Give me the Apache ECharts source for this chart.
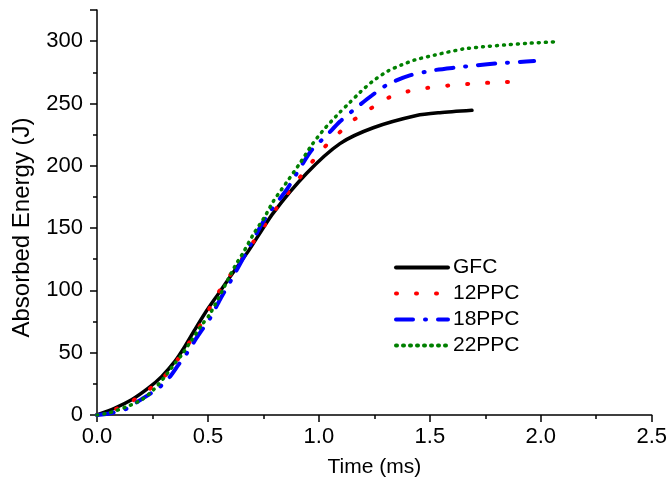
<!DOCTYPE html>
<html>
<head>
<meta charset="utf-8">
<script src="https://cdn.jsdelivr.net/npm/echarts@6/dist/echarts.min.js"></script>
<style>html,body{margin:0;padding:0;background:#fff;}#c{width:670px;height:483px;}</style>
</head>
<body>
<div id="c"></div>
<script>
const seriesNames = ['GFC', '12PPC', '18PPC', '22PPC'];
const gfc = [[0,0],[0.081,5.6],[0.156,12.2],[0.231,21.5],[0.291,30.8],[0.351,43],[0.396,55],[0.441,68.5],[0.486,81.5],[0.546,97],[0.6,111],[0.682,131.5],[0.794,162],[0.945,194],[1.095,217.8],[1.245,230.5],[1.44,240.3],[1.545,242.6],[1.69,244.5]];
const ppc12 = [[0,0],[0.089,5],[0.156,10.9],[0.231,20.1],[0.299,30],[0.351,41.4],[0.404,55],[0.449,67],[0.501,83.5],[0.539,96],[0.599,112],[0.659,127],[0.809,166],[0.907,189],[0.964,201.9],[1.019,213.8],[1.087,225.7],[1.147,235.5],[1.227,245.2],[1.312,254.5],[1.402,259.7],[1.492,262.6],[1.586,264.4],[1.68,265.7],[1.775,266.7],[1.9,267.6]];
const ppc18 = [[0,0],[0.066,1.6],[0.141,5.6],[0.186,11],[0.276,21.5],[0.329,30.8],[0.366,40],[0.404,49.3],[0.456,63.9],[0.509,77.5],[0.554,92.5],[0.607,109],[0.667,128.5],[0.764,159.4],[0.854,180.6],[0.914,197.9],[0.967,212.5],[1.035,224.4],[1.095,235.5],[1.162,245.6],[1.237,256.2],[1.312,265.5],[1.41,272.5],[1.523,276.8],[1.62,278.9],[1.71,280.6],[1.808,282.2],[1.905,283.3],[1.97,284]];
const ppc22 = [[0,0],[0.05,1.5],[0.126,6.1],[0.201,12.2],[0.254,20.1],[0.306,30.8],[0.351,41.4],[0.381,48],[0.426,59.9],[0.471,71.9],[0.509,81],[0.577,104],[0.622,119.6],[0.659,130.3],[0.704,144.8],[0.757,159.4],[0.794,171.3],[0.862,188.6],[0.914,201.9],[0.967,216.4],[1.019,228.4],[1.095,243],[1.14,250.9],[1.185,258.9],[1.245,268.2],[1.312,276.1],[1.372,280.9],[1.432,284.9],[1.523,288.9],[1.65,293.7],[1.74,295.5],[1.838,296.9],[1.935,298.2],[2.07,299.5]];

const chart = echarts.init(document.getElementById('c'));
const font = 'Liberation Sans, Arial, sans-serif';
function mk(name, data, color, type, width) {
  return {
    name: name, type: 'line', data: data, smooth: 0.25, showSymbol: false, symbol: 'none',
    lineStyle: { color: color, width: width, type: type, cap: 'round' },
    itemStyle: { color: color }
  };
}
chart.setOption({
  animation: false,
  backgroundColor: '#fff',
  grid: { left: 97, right: 18, top: 10, bottom: 66, containLabel: false },
  legend: {
    left: 389, top: 252, orient: 'vertical', itemWidth: 52, itemHeight: 14, itemGap: 5,
    itemStyle: { opacity: 0 },
    lineStyle: { width: 4, cap: 'round' },
    textStyle: { fontFamily: font, fontSize: 21, color: '#000' },
    data: seriesNames
  },
  xAxis: {
    type: 'value', min: 0, max: 2.5, interval: 0.5,
    name: 'Time (ms)', nameLocation: 'middle', nameGap: 42,
    nameTextStyle: { fontFamily: font, fontSize: 21, color: '#000' },
    axisLine: { lineStyle: { color: '#000', width: 1.5 } },
    axisTick: { length: 7, lineStyle: { color: '#000', width: 1.5 } },
    minorTick: { show: true, splitNumber: 2, length: 4, lineStyle: { color: '#000', width: 1.5 } },
    axisLabel: { fontFamily: font, fontSize: 22, color: '#000', margin: 11, formatter: v => v.toFixed(1) },
    splitLine: { show: false }
  },
  yAxis: {
    type: 'value', min: 0, max: 325, interval: 50,
    name: 'Absorbed Energy (J)', nameLocation: 'middle', nameGap: 63,
    nameTextStyle: { fontFamily: font, fontSize: 24, color: '#000', padding: [0, 30, 0, 0] },
    axisLine: { show: true, lineStyle: { color: '#000', width: 1.5 } },
    axisTick: { show: true, length: 7, lineStyle: { color: '#000', width: 1.5 } },
    minorTick: { show: true, splitNumber: 2, length: 4, lineStyle: { color: '#000', width: 1.5 } },
    axisLabel: { fontFamily: font, fontSize: 22, color: '#000', margin: 14, showMaxLabel: false },
    splitLine: { show: false }
  },
  series: [
    mk('GFC', gfc, '#000000', 'solid', 3.5),
    mk('12PPC', ppc12, '#ff0000', [1, 19], 4),
    mk('18PPC', ppc18, '#0000ff', [17, 12, 1, 12], 4),
    mk('22PPC', ppc22, '#008000', [1, 6], 3.5)
  ]
});
</script>
</body>
</html>
